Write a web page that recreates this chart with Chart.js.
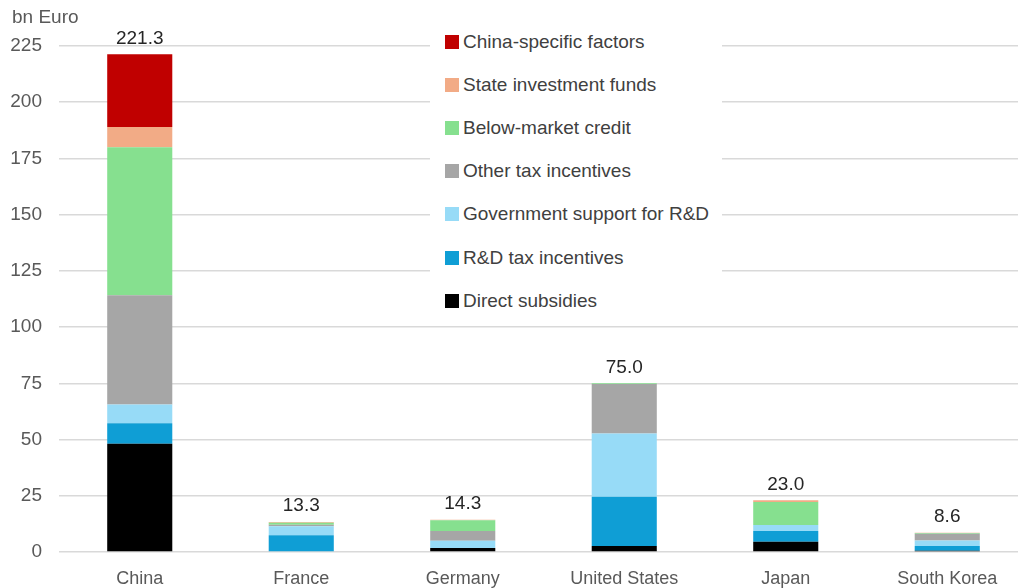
<!DOCTYPE html>
<html>
<head>
<meta charset="utf-8">
<script src="https://cdn.jsdelivr.net/npm/chart.js@4"></script>
<style>
  html, body { margin: 0; padding: 0; background: #fff; overflow: hidden; }
  #wrap { position: relative; width: 1018px; height: 588px; overflow: hidden; }
  #legend {
    position: absolute; left: 430px; top: 20px; width: 292px;
    background: #fff; font-family: "Liberation Sans", Arial, sans-serif;
    font-size: 19px; color: #404040;
  }
  #legend div { height: 43.2px; display: flex; align-items: center; }
  #legend span.box { width: 14px; height: 14px; margin-left: 15px; margin-right: 4px; }
</style>
</head>
<body>
<div id="wrap">
  <canvas id="subsidies" width="1028" height="588"></canvas>
  <div id="legend"></div>
</div>
<script>
var categories = ['China', 'France', 'Germany', 'United States', 'Japan', 'South Korea']

// bn Euro, stacked from the bottom up
var directSubsidies = [48.1, 0, 1.8, 2.7, 4.6, 0.6]
var rdTaxIncentives = [9.1, 7.4, 0, 21.9, 4.7, 2.1]
var govSupportRD = [8.4, 4.1, 3.2, 28.1, 2.7, 2.4]
var otherTaxIncentives = [48.6, 0.6, 4.3, 22.0, 0, 3.0]
var belowMarketCredit = [65.8, 0.9, 4.8, 0.3, 10.2, 0.3]
var stateInvestmentFunds = [9.0, 0.3, 0.2, 0, 0.8, 0.2]
var chinaSpecific = [32.3, 0, 0, 0, 0, 0]
var totals = [221.3, 13.3, 14.3, 75.0, 23.0, 8.6]

var yTicks = [0, 25, 50, 75, 100, 125, 150, 175, 200, 225]

var font = '"Liberation Sans", Arial, sans-serif'

var series = [
  ['Direct subsidies', directSubsidies, '#000000'],
  ['R&D tax incentives', rdTaxIncentives, '#0F9ED5'],
  ['Government support for R&D', govSupportRD, '#97DBF7'],
  ['Other tax incentives', otherTaxIncentives, '#A6A6A6'],
  ['Below-market credit', belowMarketCredit, '#86E08F'],
  ['State investment funds', stateInvestmentFunds, '#F2AB86'],
  ['China-specific factors', chinaSpecific, '#C00000']
]

var datasets = series.map(function (s) {
  return {
    label: s[0],
    data: s[1],
    backgroundColor: s[2],
    borderWidth: 0,
    categoryPercentage: 1,
    barPercentage: 0.403
  }
})

// totals above each stack + unit label
var extras = {
  id: 'extras',
  afterDatasetsDraw: function (chart) {
    var ctx = chart.ctx
    var x = chart.scales.x
    var y = chart.scales.y
    ctx.save()
    ctx.font = '19px ' + font
    ctx.fillStyle = '#262626'
    ctx.textAlign = 'center'
    ctx.textBaseline = 'middle'
    totals.forEach(function (t, i) {
      ctx.fillText(t.toFixed(1), x.getPixelForValue(i), y.getPixelForValue(t) - 16)
    })
    ctx.fillStyle = '#595959'
    ctx.textAlign = 'left'
    ctx.fillText('bn Euro', 12, 18)
    ctx.restore()
  }
}

var canvas = document.getElementById('subsidies')
var ctx = canvas.getContext('2d')

new Chart(ctx, {
  type: 'bar',
  data: { labels: categories, datasets: datasets },
  plugins: [extras],
  options: {
    responsive: false,
    animation: false,
    layout: { padding: { top: 46, right: 0, left: 0, bottom: 0 } },
    plugins: {
      legend: { display: false },
      tooltip: { enabled: false }
    },
    scales: {
      x: {
        stacked: true,
        grid: { display: false, drawTicks: false },
        border: { display: false },
        ticks: { color: '#595959', font: { family: font, size: 18 }, padding: 16, maxRotation: 0 },
        afterFit: function (s) { s.height = 36 }
      },
      y: {
        stacked: true,
        min: 0,
        max: 225,
        afterBuildTicks: function (s) { s.ticks = yTicks.map(function (v) { return { value: v } }) },
        grid: { color: '#d9d9d9', lineWidth: 1.5, drawTicks: false },
        border: { display: false },
        ticks: { color: '#595959', font: { family: font, size: 19 }, padding: 17 },
        afterFit: function (s) { s.width = 59 }
      }
    }
  }
})

// legend, top entry = top of the stack
var legend = document.getElementById('legend')
series.slice().reverse().forEach(function (s) {
  var row = document.createElement('div')
  var box = document.createElement('span')
  box.className = 'box'
  box.style.background = s[2]
  var txt = document.createElement('span')
  txt.textContent = s[0]
  row.appendChild(box)
  row.appendChild(txt)
  legend.appendChild(row)
})
</script>
</body>
</html>
